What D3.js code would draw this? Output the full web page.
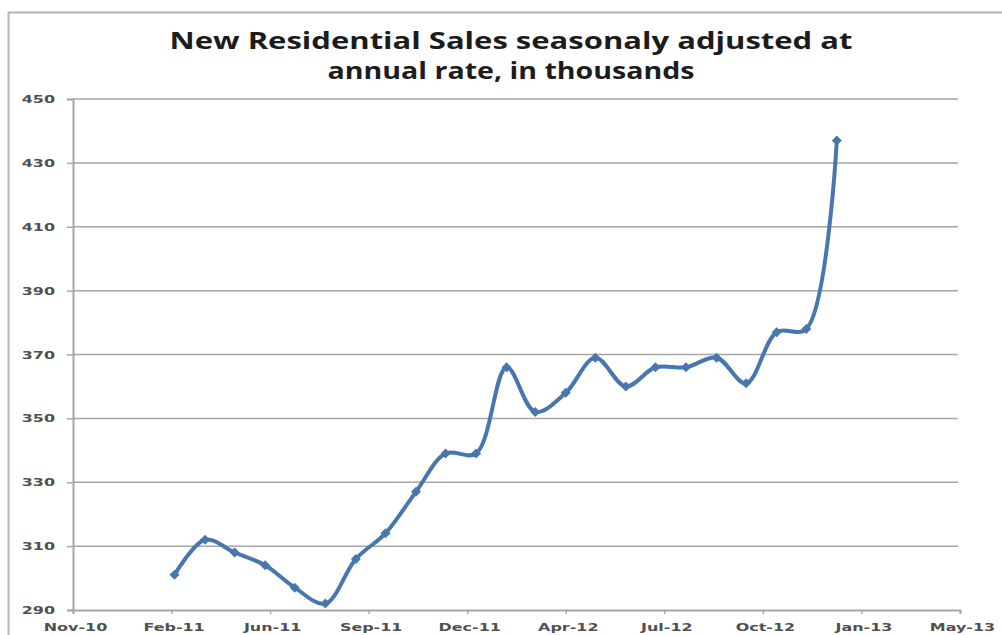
<!DOCTYPE html>
<html>
<head>
<meta charset="utf-8">
<script src="https://cdn.jsdelivr.net/npm/d3@7"></script>
<style>
  html, body { margin: 0; padding: 0; background: #ffffff; }
  svg { display: block; }
</style>
</head>
<body>
<svg id="chart" width="1002" height="635"></svg>
<script>
// Monthly new residential sales, seasonally adjusted annual rate (thousands)
const months = ["2011-03-01","2011-04-01","2011-05-01","2011-06-01","2011-07-01","2011-08-01",
  "2011-09-01","2011-10-01","2011-11-01","2011-12-01","2012-01-01","2012-02-01",
  "2012-03-01","2012-04-01","2012-05-01","2012-06-01","2012-07-01","2012-08-01",
  "2012-09-01","2012-10-01","2012-11-01","2012-12-01","2013-01-01"];
const sales = [301, 312, 308, 304, 297, 292, 306, 314, 327, 339, 339, 366,
  352, 358, 369, 360, 366, 366, 369, 361, 377, 378, 437];

// Date axis runs in 100-day steps from its start date
const axisStart = "2010-11-18";
const axisStepDays = 100;
const xTickLabels = ["Nov-10","Feb-11","Jun-11","Sep-11","Dec-11","Apr-12","Jul-12","Oct-12","Jan-13","May-13"];
const yTicks = [290, 310, 330, 350, 370, 390, 410, 430, 450];

const titleLines = ["New Residential Sales seasonaly adjusted at", "annual rate, in thousands"];

(function () {
  const svg = d3.select("#chart");
  const parse = d3.utcParse("%Y-%m-%d");
  const start = parse(axisStart);
  const xTickDates = xTickLabels.map((_, i) => d3.utcDay.offset(start, i * axisStepDays));

  const plot = { left: 73, right: 960, top: 99, bottom: 610 };

  const x = d3.scaleUtc()
    .domain([xTickDates[0], xTickDates[xTickDates.length - 1]])
    .range([plot.left, plot.right]);
  const y = d3.scaleLinear().domain([290, 450]).range([plot.bottom, plot.top]);

  // Outer frame (top and left edges)
  svg.append("path")
    .attr("d", "M8.5,635 L8.5,12.5 L1002,12.5")
    .attr("fill", "none").attr("stroke", "#b4b4b4").attr("stroke-width", 2);

  // Title
  const titleWidths = [683, 367];
  svg.append("g").selectAll("text").data(titleLines).join("text")
    .attr("x", 511).attr("y", (d, i) => 49 + i * 30)
    .attr("text-anchor", "middle")
    .attr("textLength", (d, i) => titleWidths[i])
    .attr("lengthAdjust", "spacingAndGlyphs")
    .style("font-family", "'Open Sans', 'Noto Sans', sans-serif")
    .style("font-weight", "700")
    .style("font-size", "24px")
    .attr("fill", "#1c1c1c")
    .text(d => d);

  // Horizontal gridlines
  svg.append("g").selectAll("line").data(yTicks.slice(1)).join("line")
    .attr("x1", plot.left).attr("x2", plot.right - 2)
    .attr("y1", d => y(d)).attr("y2", d => y(d))
    .attr("stroke", "#a6a6a6").attr("stroke-width", 1.5);

  const stretch = 1.45;
  const tickFont = "'DejaVu Sans', Verdana, sans-serif";

  // Y axis
  const yAxis = svg.append("g").attr("transform", `translate(${plot.left},0)`)
    .call(d3.axisLeft(y).tickValues(yTicks).tickSize(6).tickPadding(0).tickFormat(d3.format("d")));
  yAxis.select(".domain").attr("stroke", "#a6a6a6").attr("stroke-width", 2);
  yAxis.selectAll(".tick line").attr("stroke", "#a6a6a6").attr("stroke-width", 1.5);
  yAxis.selectAll(".tick text")
    .attr("x", 0)
    .attr("transform", `translate(-18,0) scale(${stretch},1)`)
    .style("font-family", tickFont).style("font-size", "11px").style("font-weight", "bold")
    .attr("fill", "#505050");

  // X axis
  const xAxis = svg.append("g").attr("transform", `translate(0,${plot.bottom})`)
    .call(d3.axisBottom(x).tickValues(xTickDates).tickSize(4).tickPadding(9)
      .tickFormat((d, i) => xTickLabels[i]));
  xAxis.select(".domain").attr("stroke", "#a6a6a6").attr("stroke-width", 2);
  xAxis.selectAll(".tick line").attr("stroke", "#a6a6a6").attr("stroke-width", 1.5);
  xAxis.selectAll(".tick text")
    .attr("transform", `translate(2,0) scale(${stretch},1)`)
    .style("font-family", tickFont).style("font-size", "11px").style("font-weight", "bold")
    .attr("fill", "#505050");

  // Series line (smoothed) and diamond markers
  const data = months.map((m, i) => ({ date: parse(m), value: sales[i] }));
  const seriesColor = "#4877b0";

  svg.append("path").datum(data)
    .attr("fill", "none")
    .attr("stroke", seriesColor)
    .attr("stroke-width", 4)
    .attr("stroke-linejoin", "round")
    .attr("stroke-linecap", "round")
    .attr("d", d3.line().x(d => x(d.date)).y(d => y(d.value)).curve(d3.curveCatmullRom.alpha(0.5)));

  svg.append("g").selectAll("path").data(data).join("path")
    .attr("transform", d => `translate(${x(d.date)},${y(d.value)}) rotate(45)`)
    .attr("d", d3.symbol(d3.symbolSquare, 50))
    .attr("fill", seriesColor);
})();
</script>
</body>
</html>
